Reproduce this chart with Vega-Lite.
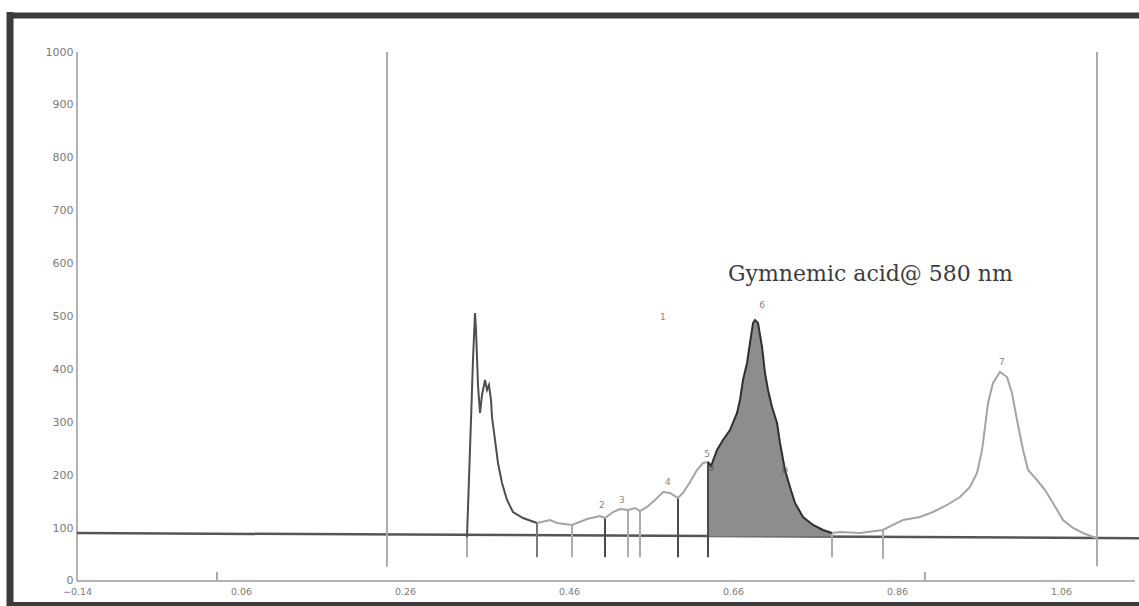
{
  "$schema": "https://vega.github.io/schema/vega-lite/v6.json",
  "width": 1129.5,
  "height": 589,
  "autosize": "none",
  "padding": {"left": 9.5, "top": 15, "right": 0, "bottom": 2},
  "background": "white",
  "config": {
    "view": {"stroke": null},
    "axis": {"grid": false, "labelFont": "DejaVu Sans", "labelColor": "#7a7a7a", "labelFontSize": 10}
  },
  "resolve": {"axis": {"x": "independent", "y": "independent"}, "scale": {"color": "independent"}},
  "datasets": {
    "curve": [
      {"x": 0.3356, "y": 83.2, "s": "a"},
      {"x": 0.3380, "y": 190.9, "s": "a"},
      {"x": 0.3405, "y": 304.4, "s": "a"},
      {"x": 0.3429, "y": 417.8, "s": "a"},
      {"x": 0.3454, "y": 506.6, "s": "a"},
      {"x": 0.3466, "y": 474.5, "s": "a"},
      {"x": 0.3478, "y": 423.4, "s": "a"},
      {"x": 0.3490, "y": 370.5, "s": "a"},
      {"x": 0.3515, "y": 317.6, "s": "a"},
      {"x": 0.3539, "y": 351.6, "s": "a"},
      {"x": 0.3576, "y": 380.0, "s": "a"},
      {"x": 0.3600, "y": 361.1, "s": "a"},
      {"x": 0.3624, "y": 370.5, "s": "a"},
      {"x": 0.3649, "y": 342.2, "s": "a"},
      {"x": 0.3661, "y": 310.0, "s": "a"},
      {"x": 0.3698, "y": 266.5, "s": "a"},
      {"x": 0.3734, "y": 223.1, "s": "a"},
      {"x": 0.3783, "y": 185.3, "s": "a"},
      {"x": 0.3844, "y": 153.1, "s": "a"},
      {"x": 0.3917, "y": 130.4, "s": "a"},
      {"x": 0.4039, "y": 119.1, "s": "a"},
      {"x": 0.4210, "y": 109.6, "s": "a"},
      {"x": 0.4210, "y": 109.6, "s": "b"},
      {"x": 0.4368, "y": 115.3, "s": "b"},
      {"x": 0.4454, "y": 109.6, "s": "b"},
      {"x": 0.4637, "y": 105.9, "s": "b"},
      {"x": 0.4820, "y": 117.2, "s": "b"},
      {"x": 0.4978, "y": 122.9, "s": "b"},
      {"x": 0.5039, "y": 119.1, "s": "b"},
      {"x": 0.5137, "y": 130.4, "s": "b"},
      {"x": 0.5222, "y": 136.1, "s": "b"},
      {"x": 0.5320, "y": 134.2, "s": "b"},
      {"x": 0.5405, "y": 138.0, "s": "b"},
      {"x": 0.5466, "y": 132.3, "s": "b"},
      {"x": 0.5551, "y": 139.9, "s": "b"},
      {"x": 0.5649, "y": 153.1, "s": "b"},
      {"x": 0.5746, "y": 168.2, "s": "b"},
      {"x": 0.5832, "y": 166.4, "s": "b"},
      {"x": 0.5929, "y": 156.9, "s": "b"},
      {"x": 0.5990, "y": 166.4, "s": "b"},
      {"x": 0.6076, "y": 187.1, "s": "b"},
      {"x": 0.6161, "y": 209.8, "s": "b"},
      {"x": 0.6234, "y": 223.1, "s": "b"},
      {"x": 0.6295, "y": 225.0, "s": "b"},
      {"x": 0.6295, "y": 225.0, "s": "c"},
      {"x": 0.6332, "y": 217.4, "s": "c"},
      {"x": 0.6405, "y": 247.6, "s": "c"},
      {"x": 0.6478, "y": 266.5, "s": "c"},
      {"x": 0.6563, "y": 285.4, "s": "c"},
      {"x": 0.6649, "y": 317.6, "s": "c"},
      {"x": 0.6685, "y": 342.2, "s": "c"},
      {"x": 0.6722, "y": 380.0, "s": "c"},
      {"x": 0.6771, "y": 412.2, "s": "c"},
      {"x": 0.6807, "y": 449.9, "s": "c"},
      {"x": 0.6844, "y": 487.7, "s": "c"},
      {"x": 0.6868, "y": 493.4, "s": "c"},
      {"x": 0.6905, "y": 487.7, "s": "c"},
      {"x": 0.6954, "y": 442.4, "s": "c"},
      {"x": 0.6990, "y": 393.2, "s": "c"},
      {"x": 0.7027, "y": 361.1, "s": "c"},
      {"x": 0.7076, "y": 328.9, "s": "c"},
      {"x": 0.7137, "y": 298.7, "s": "c"},
      {"x": 0.7173, "y": 260.9, "s": "c"},
      {"x": 0.7234, "y": 209.8, "s": "c"},
      {"x": 0.7295, "y": 177.7, "s": "c"},
      {"x": 0.7356, "y": 147.5, "s": "c"},
      {"x": 0.7454, "y": 121.0, "s": "c"},
      {"x": 0.7576, "y": 105.9, "s": "c"},
      {"x": 0.7698, "y": 96.4, "s": "c"},
      {"x": 0.7807, "y": 90.7, "s": "c"},
      {"x": 0.7807, "y": 90.7, "s": "d"},
      {"x": 0.7905, "y": 92.6, "s": "d"},
      {"x": 0.8149, "y": 90.7, "s": "d"},
      {"x": 0.8429, "y": 96.4, "s": "d"},
      {"x": 0.8551, "y": 105.9, "s": "d"},
      {"x": 0.8673, "y": 115.3, "s": "d"},
      {"x": 0.8880, "y": 121.0, "s": "d"},
      {"x": 0.9039, "y": 130.4, "s": "d"},
      {"x": 0.9210, "y": 143.7, "s": "d"},
      {"x": 0.9368, "y": 158.8, "s": "d"},
      {"x": 0.9490, "y": 177.7, "s": "d"},
      {"x": 0.9576, "y": 204.1, "s": "d"},
      {"x": 0.9637, "y": 247.6, "s": "d"},
      {"x": 0.9673, "y": 291.1, "s": "d"},
      {"x": 0.9710, "y": 336.5, "s": "d"},
      {"x": 0.9771, "y": 374.3, "s": "d"},
      {"x": 0.9856, "y": 395.1, "s": "d"},
      {"x": 0.9941, "y": 385.6, "s": "d"},
      {"x": 1.0002, "y": 355.4, "s": "d"},
      {"x": 1.0063, "y": 304.4, "s": "d"},
      {"x": 1.0137, "y": 247.6, "s": "d"},
      {"x": 1.0198, "y": 209.8, "s": "d"},
      {"x": 1.0307, "y": 190.9, "s": "d"},
      {"x": 1.0405, "y": 172.0, "s": "d"},
      {"x": 1.0502, "y": 147.5, "s": "d"},
      {"x": 1.0624, "y": 115.3, "s": "d"},
      {"x": 1.0746, "y": 100.2, "s": "d"},
      {"x": 1.0868, "y": 90.7, "s": "d"},
      {"x": 1.0990, "y": 83.2, "s": "d"},
      {"x": 1.1039, "y": 81.3, "s": "d"}
    ],
    "rules": [
      {"x": 0.3356, "y": 83.2, "y2": 45, "t": "light"},
      {"x": 0.4210, "y": 109.6, "y2": 45, "t": "mid"},
      {"x": 0.4637, "y": 105.9, "y2": 45, "t": "light"},
      {"x": 0.5039, "y": 119.1, "y2": 45, "t": "dark"},
      {"x": 0.5320, "y": 134.2, "y2": 45, "t": "light"},
      {"x": 0.5466, "y": 132.3, "y2": 45, "t": "light"},
      {"x": 0.5929, "y": 156.9, "y2": 45, "t": "dark"},
      {"x": 0.6295, "y": 225.0, "y2": 45, "t": "dark"},
      {"x": 0.7807, "y": 90.7, "y2": 45, "t": "light"},
      {"x": 0.8429, "y": 96.4, "y2": 42, "t": "light"},
      {"x": 1.1039, "y": 1000, "y2": 28, "t": "light"},
      {"x": 0.238, "y": 1000, "y2": 27, "t": "light"},
      {"x": 0.0307, "y": 17, "y2": 0, "t": "light"},
      {"x": 0.894, "y": 17, "y2": 0, "t": "light"}
    ],
    "axlines": [
      {"x": -0.14, "y": 0, "x2": -0.14, "y2": 1000},
      {"x": -0.14, "y": 0, "x2": 1.15, "y2": 0}
    ],
    "labels": [
      {"x": 0.5002, "y": 143.7, "t": "2"},
      {"x": 0.5246, "y": 153, "t": "3"},
      {"x": 0.5807, "y": 187, "t": "4"},
      {"x": 0.6283, "y": 240, "t": "5"},
      {"x": 0.6954, "y": 521, "t": "6"},
      {"x": 0.988, "y": 414, "t": "7"},
      {"x": 0.5746, "y": 499, "t": "1"}
    ],
    "dots": [
      {"x": 0.6332, "y": 213.6},
      {"x": 0.7234, "y": 209.8}
    ],
    "note": [
      {"x": 0.6539, "y": 567, "t": "Gymnemic acid@ 580 nm"}
    ]
  },
  "layer": [
    {
      "data": {"name": "axlines"},
      "mark": {"type": "rule", "color": "#9a9a9a", "strokeWidth": 1.5},
      "encoding": {
        "x": {"field": "x", "type": "quantitative",
          "scale": {"domain": [-0.2223, 1.1551], "nice": false, "zero": false},
          "axis": {"orient": "top", "domainColor": "#3b3b3b", "domainWidth": 6, "domainCap": "square", "ticks": false, "tickSize": 0, "labels": false, "title": null}},
        "x2": {"field": "x2"},
        "y": {"field": "y", "type": "quantitative",
          "scale": {"domain": [-43.5, 1070], "nice": false, "zero": false},
          "axis": {"orient": "left", "domainColor": "#3b3b3b", "domainWidth": 7, "domainCap": "square", "ticks": false, "tickSize": 0, "labelPadding": -63.5, "labelFontSize": 11, "format": "d", "values": [0, 100, 200, 300, 400, 500, 600, 700, 800, 900, 1000], "labelOverlap": false, "labelFlush": false, "title": null}},
        "y2": {"field": "y2"}
      }
    },
    {
      "data": {"values": [{"x": -0.14, "y": 90.7, "x2": 1.156, "y2": 81.0}]},
      "mark": {"type": "rule", "color": "#555555", "strokeWidth": 2.5},
      "encoding": {
        "x": {"field": "x", "type": "quantitative",
          "scale": {"domain": [-0.2223, 1.1551], "nice": false, "zero": false},
          "axis": {"orient": "bottom", "domainColor": "#3b3b3b", "domainWidth": 5, "domainCap": "square", "ticks": false, "tickSize": 0, "labelPadding": -17.5, "labelFontSize": 9.5, "values": [-0.14, 0.06, 0.26, 0.46, 0.66, 0.86, 1.06], "format": ".2f", "labelFlush": false, "labelOverlap": false, "title": null}},
        "x2": {"field": "x2"},
        "y": {"field": "y", "type": "quantitative", "scale": {"domain": [-43.5, 1070], "nice": false, "zero": false}, "axis": null},
        "y2": {"field": "y2"}
      }
    },
    {
      "data": {"name": "curve"},
      "transform": [{"filter": "datum.s == 'c'"}],
      "mark": {"type": "area", "color": "#8d8d8d", "opacity": 1},
      "encoding": {
        "x": {"field": "x", "type": "quantitative", "scale": {"domain": [-0.2223, 1.1551], "nice": false, "zero": false}, "axis": null},
        "y": {"field": "y", "type": "quantitative", "scale": {"domain": [-43.5, 1070], "nice": false, "zero": false}, "axis": null},
        "y2": {"datum": 84}
      }
    },
    {
      "data": {"name": "rules"},
      "mark": {"type": "rule", "strokeWidth": 2},
      "encoding": {
        "x": {"field": "x", "type": "quantitative", "scale": {"domain": [-0.2223, 1.1551], "nice": false, "zero": false}, "axis": null},
        "y": {"field": "y", "type": "quantitative", "scale": {"domain": [-43.5, 1070], "nice": false, "zero": false}, "axis": null},
        "y2": {"field": "y2"},
        "color": {"field": "t", "type": "nominal", "scale": {"domain": ["dark", "mid", "light"], "range": ["#4a4a4a", "#7a7a7a", "#ababab"]}, "legend": null}
      }
    },
    {
      "data": {"name": "curve"},
      "mark": {"type": "line", "strokeWidth": 2},
      "encoding": {
        "x": {"field": "x", "type": "quantitative", "scale": {"domain": [-0.2223, 1.1551], "nice": false, "zero": false}, "axis": null},
        "y": {"field": "y", "type": "quantitative", "scale": {"domain": [-43.5, 1070], "nice": false, "zero": false}, "axis": null},
        "color": {"field": "s", "type": "nominal", "scale": {"domain": ["a", "b", "c", "d"], "range": ["#4e4e4e", "#a4a4a4", "#2f2f2f", "#a4a4a4"]}, "legend": null}
      }
    },
    {
      "data": {"name": "dots"},
      "mark": {"type": "point", "size": 22, "color": "#555555", "filled": false, "strokeWidth": 1.2},
      "encoding": {
        "x": {"field": "x", "type": "quantitative", "scale": {"domain": [-0.2223, 1.1551], "nice": false, "zero": false}, "axis": null},
        "y": {"field": "y", "type": "quantitative", "scale": {"domain": [-43.5, 1070], "nice": false, "zero": false}, "axis": null}
      }
    },
    {
      "data": {"name": "labels"},
      "mark": {"type": "text", "font": "DejaVu Sans", "fontSize": 9, "color": "#858585"},
      "encoding": {
        "x": {"field": "x", "type": "quantitative", "scale": {"domain": [-0.2223, 1.1551], "nice": false, "zero": false}, "axis": null},
        "y": {"field": "y", "type": "quantitative", "scale": {"domain": [-43.5, 1070], "nice": false, "zero": false}, "axis": null},
        "text": {"field": "t"}
      }
    },
    {
      "data": {"name": "note"},
      "mark": {"type": "text", "font": "DejaVu Serif", "fontSize": 22, "color": "#3c3c3c", "align": "left", "baseline": "alphabetic"},
      "encoding": {
        "x": {"field": "x", "type": "quantitative", "scale": {"domain": [-0.2223, 1.1551], "nice": false, "zero": false}, "axis": null},
        "y": {"field": "y", "type": "quantitative", "scale": {"domain": [-43.5, 1070], "nice": false, "zero": false}, "axis": null},
        "text": {"field": "t"}
      }
    }
  ]
}
